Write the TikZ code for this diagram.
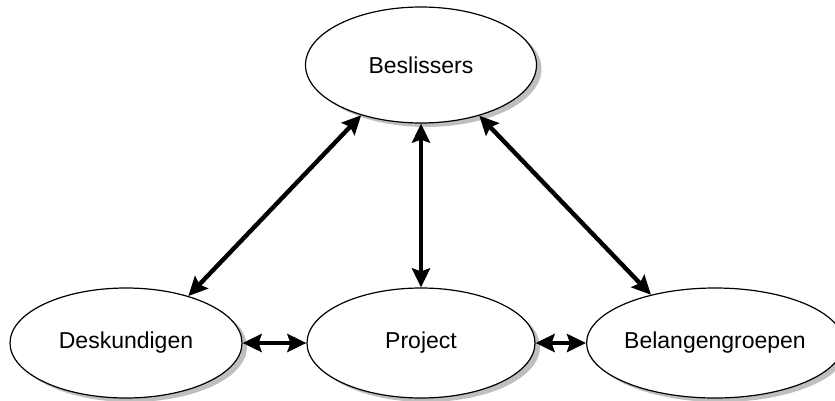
\documentclass[tikz,border=0pt]{standalone}
\usepackage{fontspec}
\setmainfont{Liberation Sans}
\usetikzlibrary{shapes.geometric,arrows.meta,shadows}
\begin{document}
\begin{tikzpicture}[x=1pt,y=-1pt,
  oval/.style={ellipse, draw=black, line width=1.2pt, fill=white, inner sep=0pt,
    minimum height=110pt, font=\fontsize{23}{27}\selectfont,
    drop shadow={shadow xshift=5pt, shadow yshift=-4pt, fill=gray!50, opacity=1}},
  tip/.style={Stealth[length=19pt,width=18pt,inset=3pt]},
  link/.style={line width=4.4pt, {Stealth[length=19pt,width=18pt,inset=3pt]}-{Stealth[length=19pt,width=18pt,inset=3pt]}}
]
\useasboundingbox (0,0) rectangle (835,400);
\node[oval, minimum width=231pt, minimum height=116pt] (B) at (421,65) {Beslissers};
\node[oval, minimum width=232pt] (D) at (126,343) {Deskundigen};
\node[oval, minimum width=228pt] (P) at (421,343) {Project};
\node[oval, minimum width=230pt] (G) at (715,343) {Belangengroepen};
\draw[link] (D.37) -- (B.220);
\draw[link] (B.south) -- (P.north);
\draw[link] (B.319) -- (G.143);
\draw[link] (D.east) -- (P.west);
\draw[link] (P.east) -- (G.west);
\end{tikzpicture}
\end{document}
